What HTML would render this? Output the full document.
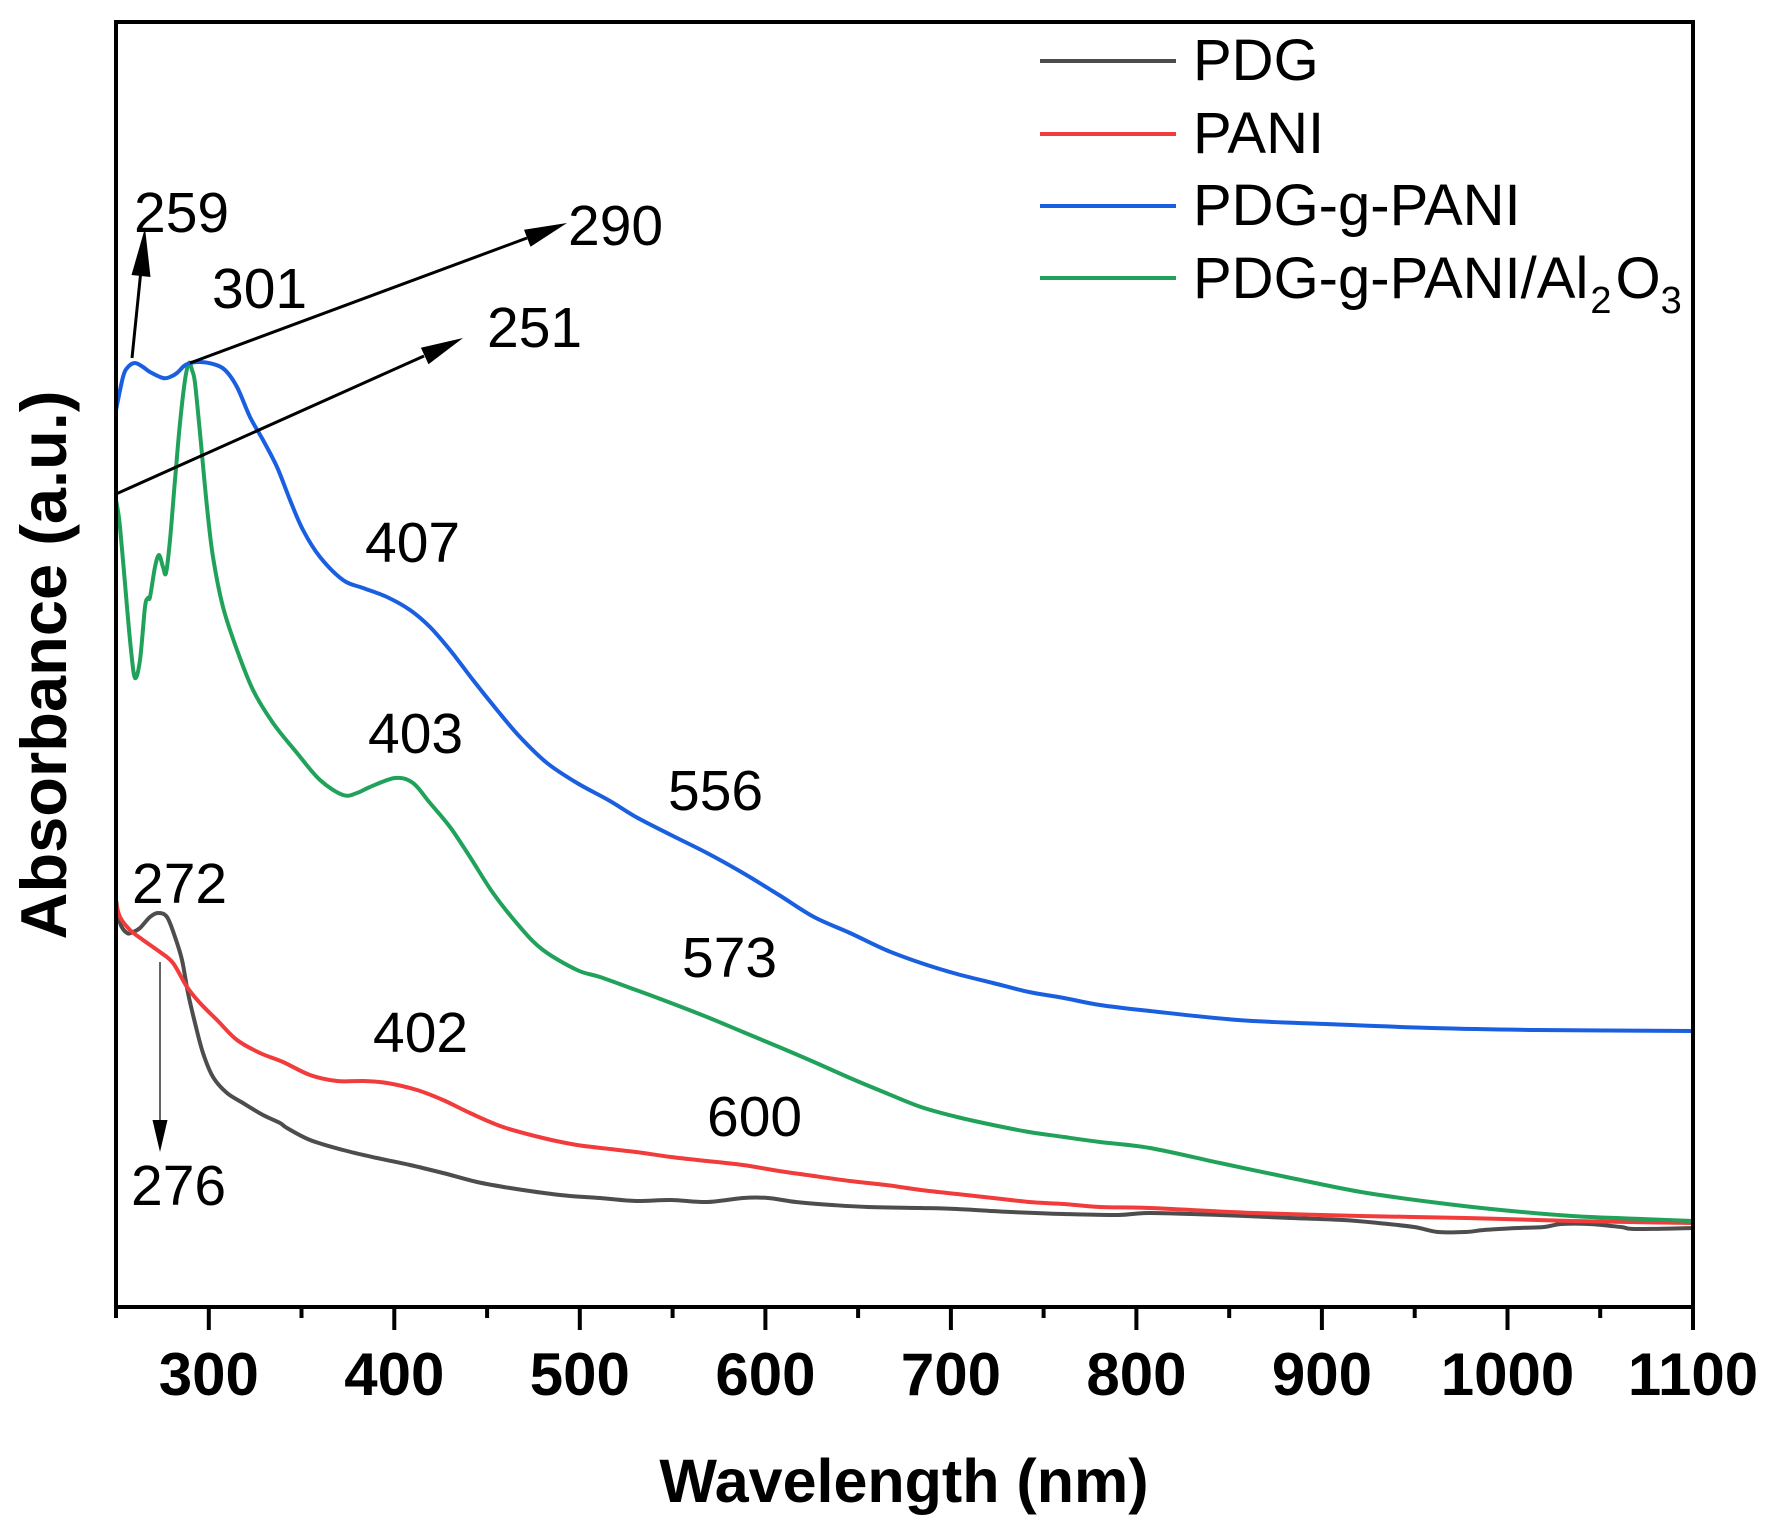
<!DOCTYPE html>
<html>
<head>
<meta charset="utf-8">
<style>
  html, body { margin:0; padding:0; background:#fff; }
  svg { display:block; }
  text { font-family: "Liberation Sans", Arial, sans-serif; fill:#000; }
</style>
</head>
<body>
<svg id="chart" width="1774" height="1525" viewBox="0 0 1774 1525" xmlns="http://www.w3.org/2000/svg">
  <rect x="0" y="0" width="1774" height="1525" fill="#fff"/>

  <!-- Curves -->
  <g id="curves" fill="none" stroke-width="4" stroke-linejoin="round" stroke-linecap="round">
    <!-- PDG (gray) -->
    <polyline stroke="#4d4d4d" points="116,900 120,923 127,933 133,932 140,928 150,917 158,913 167,917 175,937 182,960 188,993 195,1023 203,1053 213,1077 227,1093 243,1103 263,1115 280,1123 287,1128 310,1140 343,1150 377,1158 410,1165 443,1173 477,1182 510,1188 560,1195 600,1198 636,1201 671,1200 707,1202 743,1198 768,1198 796,1202 832,1205 868,1207 921,1208 957,1209 1011,1212 1064,1214 1118,1215 1150,1213 1220,1215 1291,1218 1343,1220 1378,1223 1414,1227 1438,1232 1466,1232 1484,1230 1519,1228 1544,1227 1561,1224 1589,1224 1621,1227 1635,1229 1693,1228"/>
    <!-- PANI (red) -->
    <polyline stroke="#f23b3b" points="116,903 120,917 130,930 143,940 160,952 173,963 187,987 200,1003 217,1020 237,1040 260,1053 283,1062 310,1075 337,1081 363,1081 387,1083 417,1090 443,1100 470,1113 503,1127 543,1138 577,1145 610,1149 636,1152 671,1157 707,1161 743,1165 779,1171 814,1176 850,1181 886,1185 921,1190 957,1194 993,1198 1029,1202 1064,1204 1100,1207 1150,1208 1255,1213 1361,1216 1466,1218 1572,1221 1693,1223"/>
    <!-- PDG-g-PANI/Al2O3 (green) -->
    <polyline stroke="#21a25a" points="116,500 120,527 127,607 131,650 135,678 140,660 145,607 148,598 150,597 155,567 159,555 163,567 166,573 170,540 175,480 180,423 185,380 189,363 192,370 195,383 200,433 207,507 213,557 223,607 237,650 253,690 273,723 297,753 320,780 343,795 357,793 370,787 395,778 413,783 430,803 450,827 470,857 493,893 520,927 543,950 577,970 600,977 636,990 671,1003 707,1017 743,1032 779,1047 814,1062 850,1078 886,1093 921,1107 957,1117 993,1125 1029,1132 1064,1137 1100,1142 1150,1148 1220,1163 1291,1178 1361,1192 1431,1202 1501,1210 1572,1216 1642,1219 1693,1221"/>
    <!-- PDG-g-PANI (blue) -->
    <polyline stroke="#1a5fe0" points="116,410 123,377 128,367 135,363 143,367 150,372 163,378 170,377 177,373 184,366 190,363 200,362 213,364 225,370 237,387 250,417 263,440 277,467 290,500 303,530 320,557 343,580 363,588 387,597 410,610 430,627 450,650 473,680 497,710 520,737 547,763 577,783 610,801 636,817 671,835 707,853 743,873 779,895 814,917 850,933 886,950 921,963 957,974 993,983 1029,992 1064,998 1100,1005 1150,1011 1238,1020 1326,1024 1431,1028 1537,1030 1693,1031"/>
  </g>

  <!-- Arrows -->
  <g stroke="#000" stroke-width="3" fill="none">
    <line x1="132" y1="358" x2="141" y2="270"/>
    <line x1="190" y1="363" x2="527" y2="238"/>
    <line x1="116" y1="494" x2="424" y2="356"/>
  </g>
  <g fill="#000">
    <polygon points="145,228 150.5,277 131.5,275"/>
    <polygon points="567,223 530.5,246.8 524,229.7"/>
    <polygon points="463,338 428.5,364.3 420.9,347.7"/>
  </g>
  <!-- 276 gray arrow -->
  <line x1="160" y1="962" x2="160" y2="1124" stroke="#666" stroke-width="2"/>
  <polygon points="160,1152 152.5,1120 167.5,1120" fill="#000"/>

  <!-- Annotations -->
  <g font-size="57">
    <text x="134" y="232">259</text>
    <text x="212" y="308">301</text>
    <text x="568" y="245">290</text>
    <text x="487" y="347">251</text>
    <text x="365" y="562">407</text>
    <text x="368" y="753">403</text>
    <text x="668" y="810">556</text>
    <text x="682" y="977">573</text>
    <text x="707" y="1136">600</text>
    <text x="132" y="903">272</text>
    <text x="131" y="1205">276</text>
    <text x="373" y="1052">402</text>
  </g>

  <!-- Legend -->
  <g stroke-width="4">
    <line x1="1040" y1="61" x2="1176" y2="61" stroke="#4d4d4d"/>
    <line x1="1040" y1="134" x2="1176" y2="134" stroke="#f23b3b"/>
    <line x1="1040" y1="206" x2="1176" y2="206" stroke="#1a5fe0"/>
    <line x1="1040" y1="278" x2="1176" y2="278" stroke="#21a25a"/>
  </g>
  <g font-size="58">
    <text x="1193" y="80">PDG</text>
    <text x="1193" y="153">PANI</text>
    <text x="1193" y="225">PDG-g-PANI</text>
    <text x="1193" y="298">PDG-g-PANI/Al<tspan font-size="38" dx="2" dy="15">2</tspan><tspan dx="4" dy="-15">O</tspan><tspan font-size="38" dy="15">3</tspan></text>
  </g>

  <!-- Axes box -->
  <rect x="116" y="22" width="1577" height="1285" fill="none" stroke="#000" stroke-width="4"/>

  <!-- X ticks -->
  <g stroke="#000" stroke-width="4">
    <line x1="116" y1="1305" x2="116" y2="1318"/>
    <line x1="208.8" y1="1305" x2="208.8" y2="1330"/>
    <line x1="301.5" y1="1305" x2="301.5" y2="1318"/>
    <line x1="394.3" y1="1305" x2="394.3" y2="1330"/>
    <line x1="487.1" y1="1305" x2="487.1" y2="1318"/>
    <line x1="579.8" y1="1305" x2="579.8" y2="1330"/>
    <line x1="672.6" y1="1305" x2="672.6" y2="1318"/>
    <line x1="765.4" y1="1305" x2="765.4" y2="1330"/>
    <line x1="858.1" y1="1305" x2="858.1" y2="1318"/>
    <line x1="950.9" y1="1305" x2="950.9" y2="1330"/>
    <line x1="1043.6" y1="1305" x2="1043.6" y2="1318"/>
    <line x1="1136.4" y1="1305" x2="1136.4" y2="1330"/>
    <line x1="1229.2" y1="1305" x2="1229.2" y2="1318"/>
    <line x1="1321.9" y1="1305" x2="1321.9" y2="1330"/>
    <line x1="1414.7" y1="1305" x2="1414.7" y2="1318"/>
    <line x1="1507.5" y1="1305" x2="1507.5" y2="1330"/>
    <line x1="1600.2" y1="1305" x2="1600.2" y2="1318"/>
    <line x1="1693" y1="1305" x2="1693" y2="1330"/>
  </g>

  <!-- X tick labels -->
  <g font-size="60" font-weight="bold" text-anchor="middle">
    <text x="208.8" y="1395">300</text>
    <text x="394.3" y="1395">400</text>
    <text x="579.8" y="1395">500</text>
    <text x="765.4" y="1395">600</text>
    <text x="950.9" y="1395">700</text>
    <text x="1136.4" y="1395">800</text>
    <text x="1321.9" y="1395">900</text>
    <text x="1507.5" y="1395">1000</text>
    <text x="1693" y="1395">1100</text>
  </g>

  <!-- Axis titles -->
  <text x="904" y="1502" font-size="61" font-weight="bold" text-anchor="middle">Wavelength (nm)</text>
  <text transform="translate(66,665) rotate(-90)" x="0" y="0" font-size="65" font-weight="bold" text-anchor="middle">Absorbance (a.u.)</text>
</svg>
<script>
(function(){
  var NS = "http://www.w3.org/2000/svg";
  var g = document.getElementById("curves");
  if (!g) return;
  var pls = Array.prototype.slice.call(g.querySelectorAll("polyline"));
  pls.forEach(function(pl){
    var raw = pl.getAttribute("points").trim().split(/\s+/).map(function(s){
      var a = s.split(","); return [parseFloat(a[0]), parseFloat(a[1])];
    });
    if (raw.length < 3) return;
    var d = "M" + raw[0][0] + "," + raw[0][1];
    for (var i = 0; i < raw.length - 1; i++) {
      var p0 = raw[i-1] || raw[i], p1 = raw[i], p2 = raw[i+1], p3 = raw[i+2] || raw[i+1];
      var c1x = p1[0] + (p2[0]-p0[0])/6, c1y = p1[1] + (p2[1]-p0[1])/6;
      var c2x = p2[0] - (p3[0]-p1[0])/6, c2y = p2[1] - (p3[1]-p1[1])/6;
      d += " C" + c1x.toFixed(1) + "," + c1y.toFixed(1) + " " + c2x.toFixed(1) + "," + c2y.toFixed(1) + " " + p2[0] + "," + p2[1];
    }
    var path = document.createElementNS(NS, "path");
    path.setAttribute("d", d);
    path.setAttribute("stroke", pl.getAttribute("stroke"));
    g.insertBefore(path, pl);
    g.removeChild(pl);
  });
})();
</script>
</body>
</html>
